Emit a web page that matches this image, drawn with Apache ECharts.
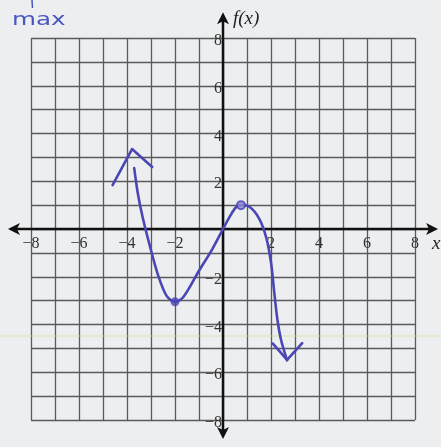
<!DOCTYPE html>
<html>
<head>
<meta charset="utf-8">
<script src="https://cdn.jsdelivr.net/npm/echarts@6/dist/echarts.min.js"></script>
<style>
  html, body { margin: 0; padding: 0; background: #eceef0; }
  #chart { width: 441px; height: 447px; }
</style>
</head>
<body>
<div id="chart"></div>
<script>
// Axis range and labelled ticks
const xRange = [-8, 8];
const yRange = [-8, 8];
const xTickValues = [-8, -6, -4, -2, 2, 4, 6, 8];
const yTickValues = [-8, -6, -4, -2, 2, 4, 6, 8];

// Sketched curve of f(x)
const curvePoints = [
  [-3.7, 2.55], [-3.55, 1.5], [-3.35, 0.5], [-3.05, -0.7], [-2.7, -1.95],
  [-2.35, -2.8], [-2.0, -3.05], [-1.65, -2.85], [-1.0, -1.75], [-0.45, -0.85],
  [0, 0], [0.3, 0.55], [0.55, 0.92], [0.75, 1.0], [1.1, 0.93], [1.5, 0.45],
  [1.8, -0.35], [2.0, -1.4], [2.13, -2.6], [2.26, -3.75], [2.42, -4.65], [2.67, -5.5]
];
// Arrowheads at both ends of the curve
const leftArrowHead = [[-4.6, 1.84], [-3.79, 3.35], [-2.95, 2.6]];
const rightArrowHead = [[2.08, -4.8], [2.67, -5.48], [3.3, -4.78]];
// Turning points marked on the curve
const minPoint = [[-2, -3.05]];
const maxPoint = [[0.75, 1.0]];

const ink = '#4a46b4';
const labelFont = '"Liberation Serif", "DejaVu Serif", serif';
const fmt = v => (v < 0 ? '\u2212' + Math.abs(v) : String(v));

const chart = echarts.init(document.getElementById('chart'), null, { renderer: 'canvas' });

chart.setOption({
  backgroundColor: '#eceef0',
  animation: false,
  grid: { left: 31, right: 26, top: 38, bottom: 27, outerBoundsMode: 'none', containLabel: false },
  xAxis: {
    type: 'value', min: xRange[0], max: xRange[1], interval: 1,
    axisLine: { show: false },
    axisTick: { show: false },
    axisLabel: { show: false },
    splitLine: { show: true, lineStyle: { color: '#5a5a5a', width: 1.3 } }
  },
  yAxis: {
    type: 'value', min: yRange[0], max: yRange[1], interval: 1,
    axisLine: { show: false },
    axisTick: { show: false },
    axisLabel: { show: false },
    splitLine: { show: true, lineStyle: { color: '#5a5a5a', width: 1.3 } }
  },
  series: [
    {
      type: 'line', data: curvePoints, smooth: 0.3, symbol: 'none', clip: false, z: 5,
      lineStyle: { color: ink, width: 2.6, cap: 'round', join: 'round' }
    },
    {
      type: 'line', data: leftArrowHead, symbol: 'none', clip: false, z: 5,
      lineStyle: { color: ink, width: 2.6, cap: 'round', join: 'round' }
    },
    {
      type: 'line', data: rightArrowHead, symbol: 'none', clip: false, z: 5,
      lineStyle: { color: ink, width: 2.6, cap: 'round', join: 'round' }
    },
    {
      type: 'scatter', data: minPoint, symbol: 'circle', symbolSize: 9, z: 6,
      itemStyle: { color: ink }
    },
    {
      type: 'scatter', data: maxPoint, symbol: 'circle', symbolSize: 8, z: 6,
      itemStyle: { color: '#8f8cd6', borderColor: ink, borderWidth: 2 }
    }
  ]
});

// Axes through the origin with arrowheads, tick labels, axis names and the note
const px = (x, y) => chart.convertToPixel({ gridIndex: 0 }, [x, y]);
const o = px(0, 0);
const L = px(-8.96, 0), R = px(8.96, 0), T = px(0, 9.08), B = px(0, -8.8);
const ah = 12, hw = 6;
const axisStyle = { stroke: '#111', lineWidth: 2.5 };
const labelStyle = { font: '16px ' + labelFont, fill: '#333' };

const graphics = [
  { type: 'line', z: 3, shape: { x1: L[0] + 6, y1: o[1], x2: R[0] - 6, y2: o[1] }, style: axisStyle },
  { type: 'line', z: 3, shape: { x1: o[0], y1: T[1] + 6, x2: o[0], y2: B[1] - 6 }, style: axisStyle },
  { type: 'polygon', z: 3, shape: { points: [[L[0], o[1]], [L[0] + ah, o[1] - hw], [L[0] + ah - 3, o[1]], [L[0] + ah, o[1] + hw]] }, style: { fill: '#111' } },
  { type: 'polygon', z: 3, shape: { points: [[R[0], o[1]], [R[0] - ah, o[1] - hw], [R[0] - ah + 3, o[1]], [R[0] - ah, o[1] + hw]] }, style: { fill: '#111' } },
  { type: 'polygon', z: 3, shape: { points: [[o[0], T[1]], [o[0] - hw, T[1] + ah], [o[0], T[1] + ah - 3], [o[0] + hw, T[1] + ah]] }, style: { fill: '#111' } },
  { type: 'polygon', z: 3, shape: { points: [[o[0], B[1]], [o[0] - hw, B[1] - ah], [o[0], B[1] - ah + 3], [o[0] + hw, B[1] - ah]] }, style: { fill: '#111' } },
  { type: 'text', z: 3, x: o[0] + 10, y: T[1] + 7, style: { text: 'f(x)', font: 'italic 19px ' + labelFont, fill: '#222', verticalAlign: 'middle' } },
  { type: 'text', z: 3, x: R[0] - 6, y: o[1] + 15, style: { text: 'x', font: 'italic 19px ' + labelFont, fill: '#222', verticalAlign: 'middle' } },
  { type: 'text', z: 3, x: 12, y: 21, scaleX: 1.45, style: { text: 'max', font: '17px "DejaVu Sans", sans-serif', fill: '#4a56c0', verticalAlign: 'middle' } },
  { type: 'line', z: 3, shape: { x1: 32, y1: 0, x2: 32.5, y2: 8 }, style: { stroke: '#4a56c0', lineWidth: 1.5 } },
  { type: 'line', z: 1, shape: { x1: 0, y1: 336, x2: 441, y2: 336 }, style: { stroke: 'rgba(205,222,140,0.45)', lineWidth: 1.5 } }
];
xTickValues.forEach(v => {
  const p = px(v, 0);
  graphics.push({ type: 'text', z: 4, x: p[0], y: p[1] + 15,
    style: Object.assign({ text: fmt(v), align: 'center', verticalAlign: 'middle' }, labelStyle) });
});
yTickValues.forEach(v => {
  const p = px(0, v);
  graphics.push({ type: 'text', z: 4, x: p[0] - 1, y: p[1] + 3,
    style: Object.assign({ text: fmt(v), align: 'right', verticalAlign: 'middle' }, labelStyle) });
});
chart.setOption({ graphic: graphics });
</script>
</body>
</html>
